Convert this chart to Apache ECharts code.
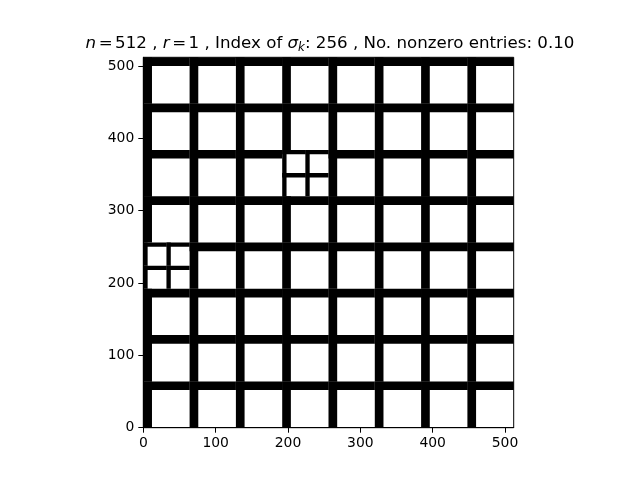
<!DOCTYPE html>
<html>
<head>
<meta charset="utf-8">
<script src="https://cdn.jsdelivr.net/npm/echarts@6/dist/echarts.min.js"></script>
<style>html,body{margin:0;padding:0;background:#fff}#c{width:640px;height:480px}</style>
</head>
<body>
<div id="c"></div>
<script>
// ---- data ----
const imageSize = 512;            // n
const blockSize = 64;             // coarse block edge
const bandWidth = 12;             // black band width in coarse blocks
const refinedBlocks = [[0, 3], [3, 5]];   // [column, row] of blocks split into 2x2
const xTicks = [0, 100, 200, 300, 400, 500];
const yTicks = [0, 100, 200, 300, 400, 500];

// cells: [x0, y0, size, band]
const cells = [];
const nb = imageSize / blockSize;
for (let c = 0; c < nb; c++) {
  for (let r = 0; r < nb; r++) {
    const refined = refinedBlocks.some(b => b[0] === c && b[1] === r);
    if (refined) {
      const s = blockSize / 2, w = bandWidth / 2;
      for (let i = 0; i < 2; i++) for (let j = 0; j < 2; j++)
        cells.push([c * blockSize + i * s, r * blockSize + j * s, s, w]);
    } else {
      cells.push([c * blockSize, r * blockSize, blockSize, bandWidth]);
    }
  }
}

const chart = echarts.init(document.getElementById('c'), null, {renderer: 'canvas'});
const FONT = 'DejaVu Sans';
const axisCommon = {
  type: 'value', min: 0, max: imageSize, interval: 100,
  axisLine: {show: true, lineStyle: {color: '#000', width: 1}},
  axisTick: {show: true, inside: false, length: 5, lineStyle: {color: '#000', width: 1}},
  axisLabel: {color: '#000', fontSize: 13.9, fontFamily: FONT, margin: 9},
  splitLine: {show: false}
};
chart.setOption({
  animation: false,
  backgroundColor: '#fff',
  title: {
    text: '{i|n}{eq|=}512 , {i|r}{eq|=}1 , Index of {i|σ}{sub|k}: 256 , No. nonzero entries: 0.10',
    left: 325, top: 29, textAlign: 'center',
    textStyle: {
      fontFamily: FONT, fontSize: 16.67, fontWeight: 'normal', color: '#000',
      rich: {
        i: {fontFamily: FONT, fontSize: 16.67, fontStyle: 'italic', color: '#000'},
        eq: {fontFamily: FONT, fontSize: 16.67, color: '#000', padding: [0, 2.5, 0, 2.5]},
        sub: {fontFamily: FONT, fontSize: 11.7, fontStyle: 'italic', color: '#000', padding: [8, 0, 0, 0]}
      }
    }
  },
  grid: {left: 143.3, right: 126.3, top: 57.3, bottom: 52.3, show: true, borderColor: '#000', borderWidth: 1, backgroundColor: '#fff'},
  xAxis: Object.assign({}, axisCommon, {
    axisLabel: Object.assign({}, axisCommon.axisLabel, {customValues: xTicks}),
    axisTick: Object.assign({}, axisCommon.axisTick, {customValues: xTicks})
  }),
  yAxis: Object.assign({}, axisCommon, {
    axisLabel: Object.assign({}, axisCommon.axisLabel, {customValues: yTicks}),
    axisTick: Object.assign({}, axisCommon.axisTick, {customValues: yTicks})
  }),
  series: [{
    type: 'custom',
    data: cells,
    clip: true,
    renderItem: function (params, api) {
      const x0 = api.value(0), y0 = api.value(1), s = api.value(2), b = api.value(3);
      const p00 = api.coord([x0, y0]);
      const p11 = api.coord([x0 + s, y0 + s]);
      const pb = api.coord([x0 + b, y0 + s - b]);
      return {
        type: 'group',
        children: [
          {type: 'rect', shape: {x: p00[0], y: p11[1], width: pb[0] - p00[0], height: p00[1] - p11[1]}, style: {fill: '#000'}},
          {type: 'rect', shape: {x: p00[0], y: p11[1], width: p11[0] - p00[0], height: pb[1] - p11[1]}, style: {fill: '#000'}}
        ]
      };
    }
  }]
});
</script>
</body>
</html>
